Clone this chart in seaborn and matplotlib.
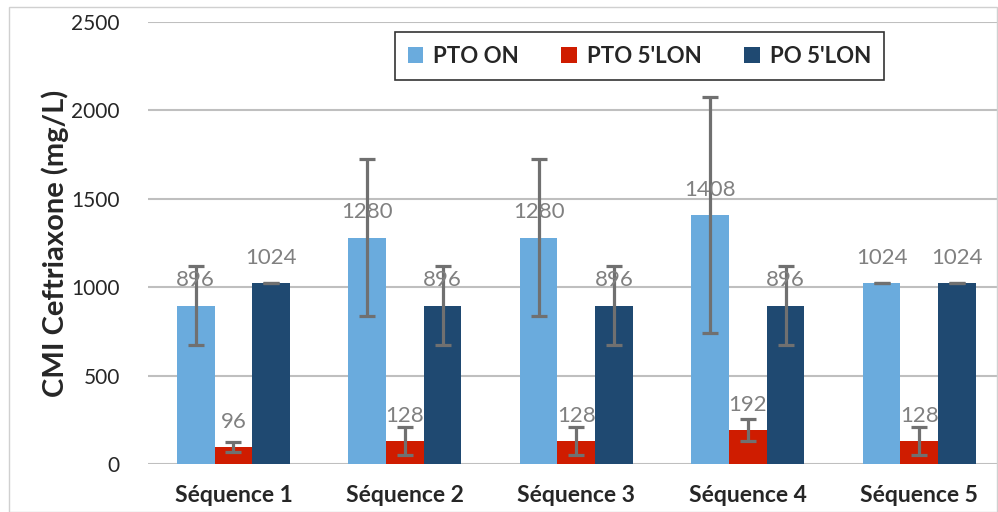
import numpy as np
import pandas as pd
import seaborn as sns
import matplotlib.pyplot as plt
from matplotlib.patches import Rectangle

sequences = ["Séquence 1", "Séquence 2", "Séquence 3", "Séquence 4", "Séquence 5"]
series = ["PTO ON", "PTO 5'LON", "PO 5'LON"]
pto_on = [896, 1280, 1280, 1408, 1024]
pto_5lon = [96, 128, 128, 192, 128]
po_5lon = [1024, 896, 896, 896, 1024]
err_pto_on = [222, 444, 444, 665, 0]
err_pto_5lon = [28, 78, 78, 60, 78]
err_po_5lon = [0, 222, 222, 222, 0]
colors = ["#6aabdd", "#cf1c00", "#1f4971"]

values = {"PTO ON": pto_on, "PTO 5'LON": pto_5lon, "PO 5'LON": po_5lon}
errors = {"PTO ON": err_pto_on, "PTO 5'LON": err_pto_5lon, "PO 5'LON": err_po_5lon}

df = pd.DataFrame([(s, name, values[name][i])
                   for name in series for i, s in enumerate(sequences)],
                  columns=["sequence", "serie", "cmi"])

sns.set_style("white")
plt.rcParams["font.family"] = ["Lato", "DejaVu Sans"]

fig = plt.figure(figsize=(9.98, 5.12), dpi=100)
ax = fig.add_axes([0.148, 0.094, 0.859, 0.863])
sns.barplot(data=df, x="sequence", y="cmi", hue="serie", hue_order=series,
            palette=colors, errorbar=None, width=0.66, saturation=1,
            linewidth=0, ax=ax)

# error bars + labels
for cont, name in zip(ax.containers, series):
    for bar, v, e in zip(cont, values[name], errors[name]):
        xc = bar.get_x() + bar.get_width() / 2
        ax.errorbar(xc, v, yerr=e, fmt="none", ecolor="#707070",
                    elinewidth=2.3, capsize=5.5, capthick=2.3, zorder=4)
        ax.annotate(str(v), (xc, v), xytext=(0, 11), textcoords="offset points",
                    ha="center", va="bottom", fontsize=16, color="#808080",
                    zorder=5)

ax.set_xlim(-0.5, 4.5)
ax.set_ylim(0, 2500)
ax.set_yticks(range(0, 2501, 500))
ax.yaxis.grid(True, color="#bfbfbf", linewidth=1.5)
ax.set_axisbelow(True)
sns.despine(ax=ax, left=True, bottom=True, right=True, top=True)
ax.tick_params(axis="y", length=6, color="#bfbfbf", width=1.5, labelsize=15,
               pad=14)
ax.tick_params(axis="x", length=0, labelsize=16.5, pad=15)
for lbl in ax.get_xticklabels():
    lbl.set_fontweight("bold")
ax.set_xlabel("")
ax.set_ylabel("CMI Ceftriaxone (mg/L)", fontsize=21, fontweight="bold",
              labelpad=2)

leg = ax.legend(ncol=3, loc="upper left", bbox_to_anchor=(0.288, 0.977),
                borderaxespad=0, frameon=True, fancybox=False,
                edgecolor="black", prop={"weight": "bold", "size": 16},
                handlelength=0.7, handleheight=0.7, handletextpad=0.45,
                columnspacing=1.9, borderpad=0.6)
leg.get_frame().set_linewidth(1.2)

fig.patches.append(Rectangle((0.009, 0.0), 0.99, 0.986, transform=fig.transFigure,
                             fill=False, edgecolor="#d0d0d0", linewidth=1))

plt.savefig("out.png", dpi=100)
plt.close("all")
